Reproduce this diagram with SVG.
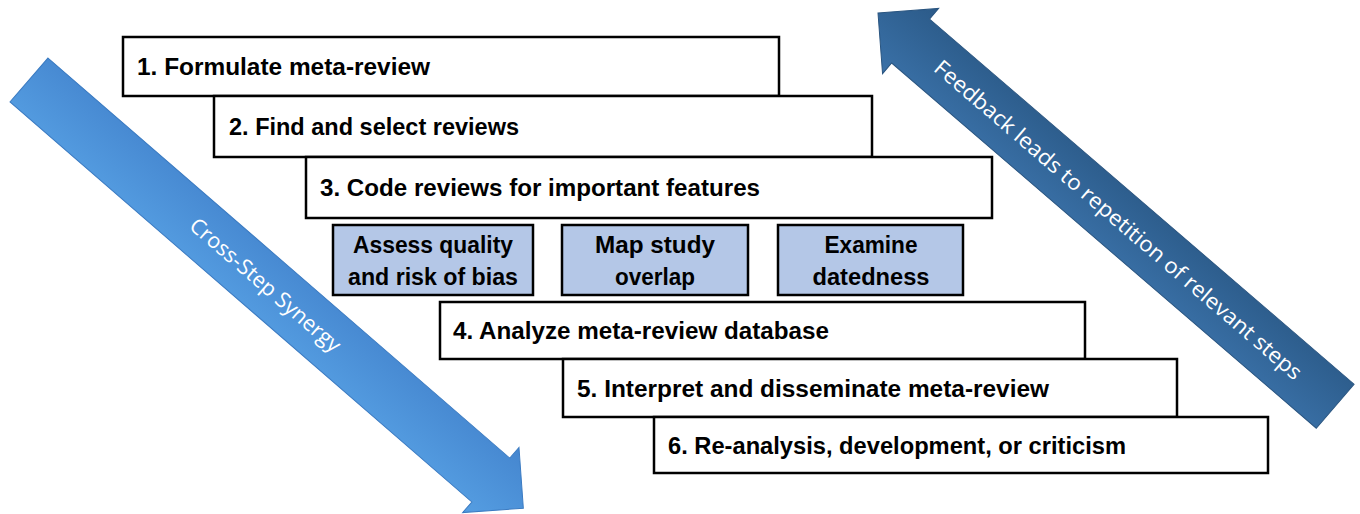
<svg xmlns="http://www.w3.org/2000/svg" width="1360" height="514" viewBox="0 0 1360 514">
<defs>
<linearGradient id="gL" x1="0" y1="0" x2="0" y2="1">
<stop offset="0" stop-color="#4586cf"/>
<stop offset="1" stop-color="#559ee2"/>
</linearGradient>
<linearGradient id="gR" x1="0" y1="0" x2="0" y2="1">
<stop offset="0" stop-color="#2b5a88"/>
<stop offset="1" stop-color="#3a71a8"/>
</linearGradient>
<style>
.step{fill:#ffffff;stroke:#000;stroke-width:2.5}
.sub{fill:#b4c7e7;stroke:#000;stroke-width:2.5}
.t{font-family:"Liberation Sans",Arial,sans-serif;font-weight:bold;font-size:23px;fill:#000}
.ts{font-family:"Liberation Sans",Arial,sans-serif;font-weight:bold;font-size:23px;fill:#000;text-anchor:middle}
.at{font-family:"Open Sans","Liberation Sans",sans-serif;font-size:21.5px;fill:#fff;text-anchor:middle}
</style>
</defs>
<rect width="1360" height="514" fill="#fff"/>
<g id="connectors">
<g id="arrow-synergy" transform="translate(29,80) rotate(40.9)">
<polygon points="0,-29 611,-29 611,-43 654,0 611,43 611,29 0,29" fill="url(#gL)" stroke="#3b7bc2" stroke-width="1"/>
<text class="at" x="313" y="7.5">Cross-Step Synergy</text>
</g>
<g id="arrow-feedback" transform="translate(878,13) rotate(40.7)">
<polygon points="0,0 43,-43 43,-29 603,-29 603,29 43,29 43,43" fill="url(#gR)" stroke="#2a5580" stroke-width="1"/>
<text class="at" x="317" y="7.5" textLength="477" lengthAdjust="spacingAndGlyphs">Feedback leads to repetition of relevant steps</text>
</g>
</g>
<g id="step1"><rect class="step" x="123" y="37" width="656" height="59"/><text class="t" x="137" y="75" textLength="293" lengthAdjust="spacingAndGlyphs">1. Formulate meta-review</text></g>
<g id="step2"><rect class="step" x="214" y="96" width="658" height="61"/><text class="t" x="229" y="135" textLength="290" lengthAdjust="spacingAndGlyphs">2. Find and select reviews</text></g>
<g id="step3"><rect class="step" x="306" y="157" width="686" height="61"/><text class="t" x="320" y="196" textLength="440" lengthAdjust="spacingAndGlyphs">3. Code reviews for important features</text></g>
<g id="sub-quality"><rect class="sub" x="333" y="225" width="200" height="70"/><text class="ts" x="433" y="253" textLength="160" lengthAdjust="spacingAndGlyphs">Assess quality</text><text class="ts" x="433" y="285" textLength="170" lengthAdjust="spacingAndGlyphs">and risk of bias</text></g>
<g id="sub-overlap"><rect class="sub" x="562" y="225" width="186" height="70"/><text class="ts" x="655" y="253" textLength="120" lengthAdjust="spacingAndGlyphs">Map study</text><text class="ts" x="655" y="285" textLength="80" lengthAdjust="spacingAndGlyphs">overlap</text></g>
<g id="sub-datedness"><rect class="sub" x="778" y="225" width="185" height="70"/><text class="ts" x="871" y="253" textLength="93" lengthAdjust="spacingAndGlyphs">Examine</text><text class="ts" x="871" y="285" textLength="117" lengthAdjust="spacingAndGlyphs">datedness</text></g>
<g id="step4"><rect class="step" x="440" y="302" width="645" height="57"/><text class="t" x="453" y="339" textLength="376" lengthAdjust="spacingAndGlyphs">4. Analyze meta-review database</text></g>
<g id="step5"><rect class="step" x="563" y="359" width="614" height="58"/><text class="t" x="577" y="397" textLength="472" lengthAdjust="spacingAndGlyphs">5. Interpret and disseminate meta-review</text></g>
<g id="step6"><rect class="step" x="654" y="417" width="614" height="56"/><text class="t" x="668" y="454" textLength="458" lengthAdjust="spacingAndGlyphs">6. Re-analysis, development, or criticism</text></g>
</svg>
